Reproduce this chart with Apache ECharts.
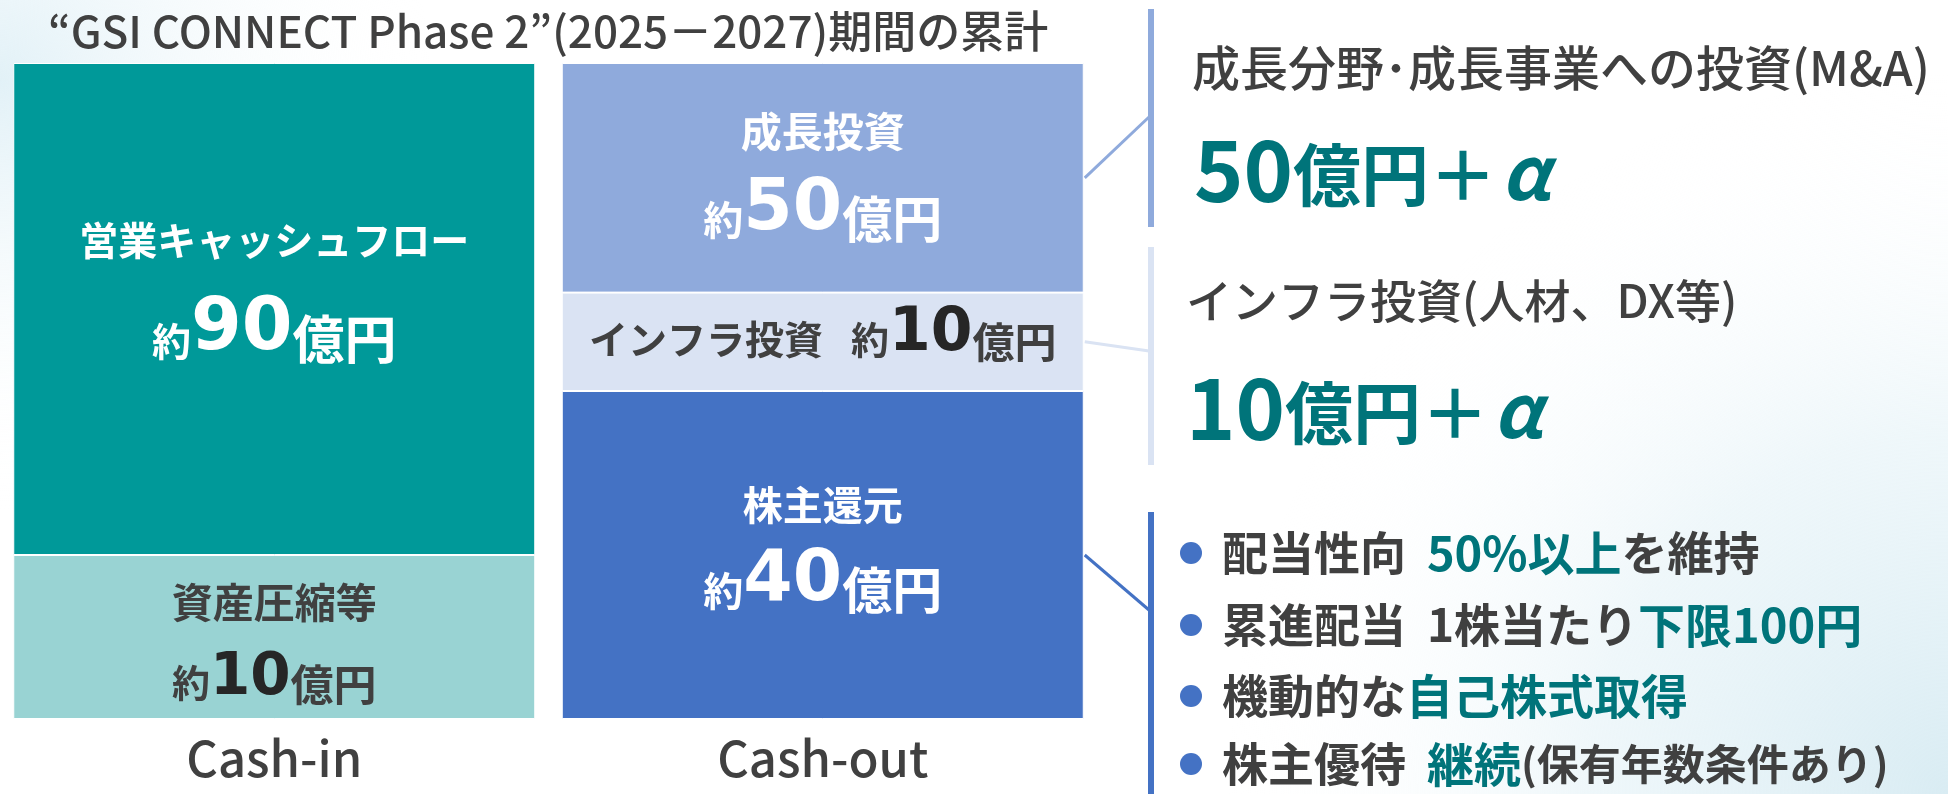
<!DOCTYPE html>
<html>
<head>
<meta charset="utf-8">
<title>GSI CONNECT Phase 2 キャッシュアロケーション</title>
<script src="https://cdn.jsdelivr.net/npm/echarts@6/dist/echarts.min.js"></script>
<style>
html, body { margin: 0; padding: 0; background: #fff; }
#main { width: 1948px; height: 794px; }
</style>
</head>
<body>
<div id="main"></div>
<script>
// ---- data ----
const flows = ['Cash-in', 'Cash-out'];
const itemNames = ['資産圧縮等', '営業キャッシュフロー', '株主還元', 'インフラ投資', '成長投資'];
const itemFlow = [0, 0, 1, 1, 1];           // which column each box sits in
const itemAmounts = [10, 90, 40, 10, 50];   // 億円 (as written in the boxes)
const itemBoxShare = [25, 75, 50, 15, 35];  // box height as drawn, % of the column

const headTitle = '“GSI CONNECT Phase 2”(2025－2027)期間の累計';
const outHeads = ['成長分野･成長事業への投資(M&A)', 'インフラ投資(人材、DX等)'];
const outAmounts = [50, 10];
// shareholder return points: [text, style key]
const returnPoints = [
  [['配当性向  ', 'd'], ['50%以上', 'k'], ['を維持', 'd']],
  [['累進配当  1株当たり', 'd'], ['下限100円', 'k']],
  [['機動的な', 'd'], ['自己株式取得', 'k']],
  [['株主優待  ', 'd'], ['継続', 'k'], ['(保有年数条件あり)', 's']]
];

// ---- styles ----
const JP = '"Noto Sans CJK JP", "Noto Sans", sans-serif';
const NUM = '"DejaVu Sans", "Noto Sans", sans-serif';
const DARK = '#404040';
const TEAL = '#00747a';
const boxColors = ['#99d3d3', '#009999', '#4472c4', '#dae3f3', '#8faadc'];
const boxText = [
  { color: DARK, t: 41, y: 38, n: 58, u: 43, lh: 79, off: -8 },
  { color: '#fff', t: 39, y: 39, n: 73, u: 52, lh: 101, off: -43 },
  { color: '#fff', t: 40, y: 40, n: 71, u: 50, lh: 86, off: -24 },
  { color: DARK, t: 39, y: 38, n: 60, u: 42, lh: 60, off: -7, oneLine: true },
  { color: '#fff', t: 41, y: 40, n: 71, u: 50, lh: 88, off: -20 }
];

const chart = echarts.init(document.getElementById('main'));

const series = itemNames.map(function (name, i) {
  const s = boxText[i];
  const numLine = '{y|約}{n|' + itemAmounts[i] + '}{u|億円}';
  return {
    name: name,
    type: 'bar',
    stack: 'flow',
    barWidth: 522,
    data: flows.map(function (f, j) { return j === itemFlow[i] ? itemBoxShare[i] : '-'; }),
    itemStyle: { color: boxColors[i], borderColor: '#fff', borderWidth: 1 },
    emphasis: { disabled: true },
    label: {
      show: true,
      position: 'inside',
      offset: [0, s.off],
      formatter: s.oneLine ? '{t|' + name + '}{sp|}' + numLine : '{t|' + name + '}\n' + numLine,
      rich: {
        t: { fontFamily: JP, fontSize: s.t, fontWeight: 'bold', color: s.color, lineHeight: s.lh, verticalAlign: 'bottom', padding: [0, 0, 6, 0] },
        sp: { width: 28 },
        y: { fontFamily: JP, fontSize: s.y, fontWeight: 'bold', color: s.color, lineHeight: s.lh, verticalAlign: 'bottom', padding: [0, 0, 6, 0] },
        n: { fontFamily: NUM, fontSize: s.n, fontWeight: 'bold', color: s.color === DARK ? '#262626' : s.color, lineHeight: s.lh, verticalAlign: 'bottom' },
        u: { fontFamily: JP, fontSize: s.u, fontWeight: 'bold', color: s.color, lineHeight: s.lh, verticalAlign: 'bottom', padding: [0, 0, 2, 0] }
      }
    }
  };
});

function txt(x, y, text, rich, align) {
  return {
    type: 'text', x: x, y: y, z: 10,
    style: { text: text, rich: rich, align: align || 'left', verticalAlign: 'middle',
      textAlign: align || 'left', textVerticalAlign: 'middle' }
  };
}

const panelRich = {
  h: { fontFamily: JP, fontSize: 48, fontWeight: 500, fill: DARK },
  h2: { fontFamily: JP, fontSize: 46, fontWeight: 500, fill: DARK },
  a: { fontFamily: JP, fontSize: 84, fontWeight: 'bold', fill: TEAL, verticalAlign: 'bottom' },
  u: { fontFamily: JP, fontSize: 68, fontWeight: 'bold', fill: TEAL, verticalAlign: 'bottom', padding: [0, 0, 3, 0] },
  al: { fontFamily: JP, fontSize: 74, fontWeight: 'bold', fontStyle: 'italic', fill: TEAL, verticalAlign: 'bottom', padding: [0, 0, 3, 4] },
  d: { fontFamily: JP, fontSize: 46, fontWeight: 'bold', fill: DARK },
  s: { fontFamily: JP, fontSize: 42, fontWeight: 'bold', fill: DARK },
  k: { fontFamily: JP, fontSize: 47, fontWeight: 'bold', fill: TEAL }
};

const graphics = [
  { type: 'rect', z: -10, silent: true, shape: { x: 0, y: 0, width: 1948, height: 794 },
    style: { fill: { type: 'radial', x: 0, y: 80, r: 430, global: true,
      colorStops: [{ offset: 0, color: '#e2f1f7' }, { offset: 1, color: 'rgba(255,255,255,0)' }] } } },
  { type: 'rect', z: -9, silent: true, shape: { x: 0, y: 0, width: 1948, height: 794 },
    style: { fill: { type: 'radial', x: 1948, y: 794, r: 720, global: true,
      colorStops: [{ offset: 0, color: '#d9ecf3' }, { offset: 0.5, color: 'rgba(228,242,247,0.6)' }, { offset: 1, color: 'rgba(255,255,255,0)' }] } } },
  txt(548, 31, '{h|' + headTitle + '}', { h: { fontFamily: JP, fontSize: 44, fontWeight: 500, fill: DARK } }, 'center'),
  // right panel bars
  { type: 'line', shape: { x1: 1151, y1: 9, x2: 1151, y2: 227 }, style: { stroke: '#8faadc', lineWidth: 6 } },
  { type: 'line', shape: { x1: 1151, y1: 247, x2: 1151, y2: 465 }, style: { stroke: '#dae3f3', lineWidth: 6 } },
  { type: 'line', shape: { x1: 1151, y1: 512, x2: 1151, y2: 794 }, style: { stroke: '#4472c4', lineWidth: 6 } },
  txt(1192, 68, '{h|' + outHeads[0] + '}', panelRich),
  txt(1194, 170, '{a|' + outAmounts[0] + '}{u|億円＋}{al|α}', panelRich),
  txt(1186, 301, '{h2|' + outHeads[1] + '}', panelRich),
  txt(1186, 408, '{a|' + outAmounts[1] + '}{u|億円＋}{al|α}', panelRich)
];

const rowY = [553, 625, 696, 764];
returnPoints.forEach(function (parts, r) {
  graphics.push({ type: 'circle', shape: { cx: 1191, cy: rowY[r], r: 11 }, style: { fill: '#4472c4' } });
  const text = parts.map(function (p) { return '{' + p[1] + '|' + p[0] + '}'; }).join('');
  graphics.push(txt(1222, rowY[r], text, panelRich));
});

chart.setOption({
  animation: false,
  grid: { left: 0, right: 851, top: 63, bottom: 75 },
  xAxis: {
    type: 'category',
    data: flows,
    axisLine: { show: false },
    axisTick: { show: false },
    axisLabel: { margin: 15, fontFamily: JP, fontSize: 49, fontWeight: 500, color: DARK, lineHeight: 49 }
  },
  yAxis: { type: 'value', min: 0, max: 100, show: false, splitLine: { show: false } },
  graphic: graphics,
  series: series
});

// connectors from the Cash-out boxes to the explanation bars
const barRight = chart.convertToPixel({ xAxisIndex: 0 }, 'Cash-out') + 522 / 2;
let base = 0;
const connColors = { 2: '#4472c4', 3: '#dae3f3', 4: '#8faadc' };
const connEnd = { 2: 610, 3: 351, 4: 117 };
const conns = [];
itemNames.forEach(function (name, i) {
  if (itemFlow[i] !== 1) return;
  const midY = chart.convertToPixel({ yAxisIndex: 0 }, base + itemBoxShare[i] / 2);
  base += itemBoxShare[i];
  conns.push({ type: 'line', shape: { x1: barRight + 1, y1: midY, x2: 1149, y2: connEnd[i] },
    style: { stroke: connColors[i], lineWidth: 3 } });
});
chart.setOption({ graphic: graphics.concat(conns) });
</script>
</body>
</html>
